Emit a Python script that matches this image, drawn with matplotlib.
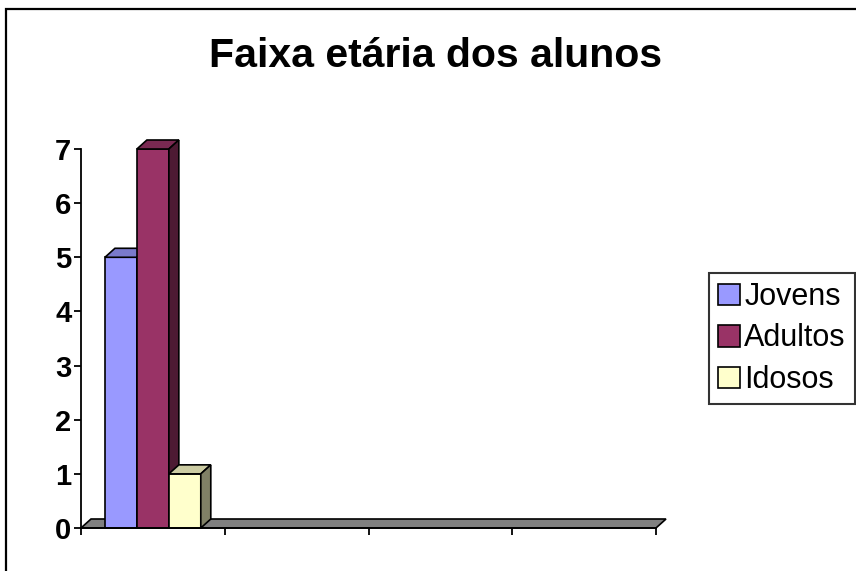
import matplotlib
matplotlib.use("Agg")
import matplotlib.pyplot as plt
from matplotlib.patches import Polygon, Rectangle, Patch
import numpy as np

plt.rcParams['font.family'] = ['Liberation Sans', 'DejaVu Sans']

title = "Faixa etária dos alunos"
series = ["Jovens", "Adultos", "Idosos"]
values = [5, 7, 1]
front_colors = ["#9999FF", "#993366", "#FFFFCC"]
n_categories = 4
yticks = [0, 1, 2, 3, 4, 5, 6, 7]

W, H = 856, 571
fig = plt.figure(figsize=(W / 100, H / 100), dpi=100)

# axes box in pixels: x 81..656, y 149..528 (top-down)
ax_left, ax_right, ax_top, ax_bot = 81, 656, 149, 528
ax = fig.add_axes([ax_left / W, (H - ax_bot) / H,
                   (ax_right - ax_left) / W, (ax_bot - ax_top) / H])
ax.set_xlim(0, n_categories)
ax.set_ylim(0, 7)

# 3d depth in data units (10 px right, 9 px up)
px_x = n_categories / (ax_right - ax_left)
px_y = 7 / (ax_bot - ax_top)
dx, dy = 10 * px_x, 9 * px_y

def shade(c, f):
    r, g, b = matplotlib.colors.to_rgb(c)
    return (r * f, g * f, b * f)

lw = 1.2

# floor
floor = Polygon([(0, 0), (n_categories, 0), (n_categories + dx, dy), (dx, dy)],
                closed=True, facecolor="#808080", edgecolor="black", lw=lw,
                clip_on=False, zorder=1)
ax.add_patch(floor)

bar_w = 1 / 4.5
start = 0.75 / 4.5
for i, (name, v, c) in enumerate(zip(series, values, front_colors)):
    x0 = start + i * bar_w
    ax.bar(x0, v, width=bar_w, align="edge", color=c, edgecolor="black",
           lw=lw, zorder=2 + i, clip_on=False)
    top = Polygon([(x0, v), (x0 + bar_w, v), (x0 + bar_w + dx, v + dy), (x0 + dx, v + dy)],
                  closed=True, facecolor=shade(c, 0.8), edgecolor="black", lw=lw,
                  clip_on=False, zorder=2 + i)
    side = Polygon([(x0 + bar_w, 0), (x0 + bar_w + dx, dy), (x0 + bar_w + dx, v + dy), (x0 + bar_w, v)],
                   closed=True, facecolor=shade(c, 0.5), edgecolor="black", lw=lw,
                   clip_on=False, zorder=2 + i)
    ax.add_patch(top)
    ax.add_patch(side)

ax.set_yticks(yticks)
ax.set_yticklabels([str(t) for t in yticks], fontsize=21, fontweight="bold")
ax.set_xticks(np.arange(n_categories + 1))
ax.set_xticklabels([])
ax.tick_params(axis="both", direction="out", length=5, width=1.3, color="black", pad=2)
for s in ["top", "right"]:
    ax.spines[s].set_visible(False)
for s in ["left", "bottom"]:
    ax.spines[s].set_linewidth(1.3)
    ax.spines[s].set_zorder(6)
ax.patch.set_visible(False)

fig.text(435.5 / W, 1 - 67 / H, title, ha="center", va="baseline",
         fontsize=29.5, fontweight="bold")

# outer frame (left/top visible)
fig.patches.append(Rectangle((6 / W, -0.1), 1.2, 1 - 9 / H + 0.1, transform=fig.transFigure,
                             fill=False, edgecolor="black", lw=1.6, clip_on=False))

handles = [Patch(facecolor=c, edgecolor="black", lw=1.2) for c in front_colors]
leg = fig.legend(handles, series, loc="center left",
                 bbox_to_anchor=(709 / W, 1 - 338.5 / H), bbox_transform=fig.transFigure,
                 fontsize=22, frameon=True, fancybox=False, edgecolor="black",
                 handlelength=0.7, handleheight=0.7, handletextpad=0.15,
                 borderpad=0.3, labelspacing=0.38, borderaxespad=0)
leg.get_frame().set_linewidth(1.5)

fig.savefig("out.png", dpi=100)
